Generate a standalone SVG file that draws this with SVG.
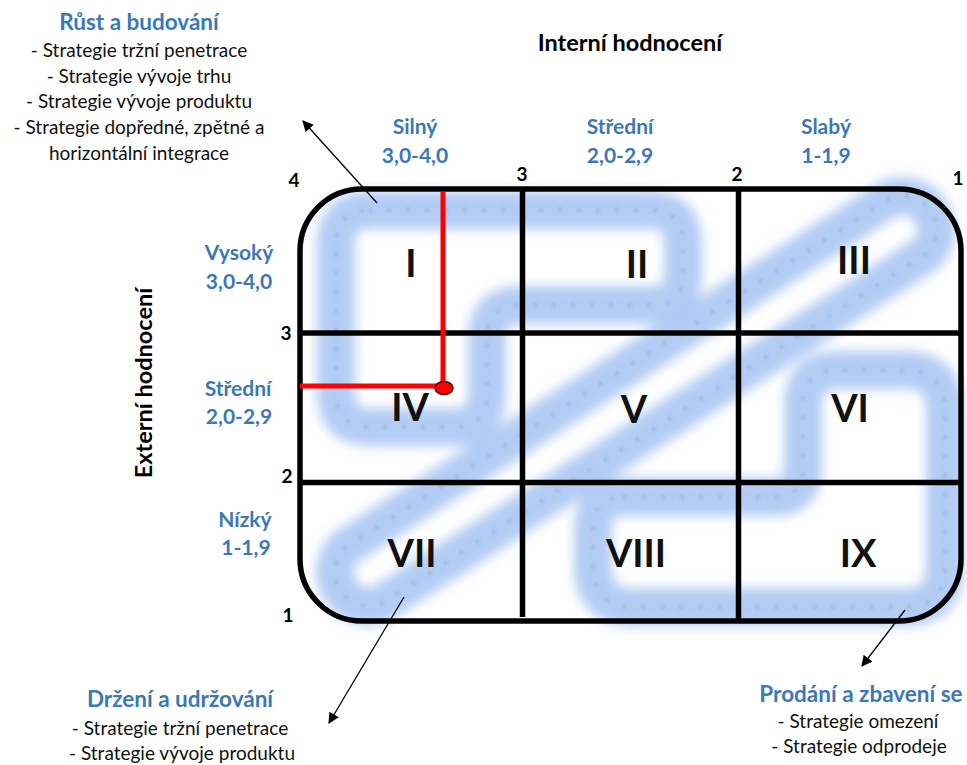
<svg xmlns="http://www.w3.org/2000/svg" width="967" height="765" viewBox="0 0 967 765">
<style>
text{font-family:Lato,"Liberation Sans",sans-serif}
.blue{fill:#3b78b8;font-weight:bold;font-size:21px;text-anchor:middle}
.bt{fill:#3b78b8;font-weight:bold;font-size:22.5px;text-anchor:middle}
.body{fill:#111;font-size:19px;text-anchor:middle}
.num{fill:#000;font-weight:bold;font-size:19px;text-anchor:middle}
.rom{fill:#111;font-weight:bold;font-size:38px;text-anchor:middle}
.axis{fill:#000;font-weight:bold;font-size:23.5px;text-anchor:middle}
.band{fill:none;stroke:#a6c3f2;stroke-width:38;stroke-linejoin:round;stroke-linecap:round;opacity:0.85}
.dots{fill:none;stroke:#93b2de;stroke-width:5;stroke-dasharray:0 19;stroke-linecap:round;opacity:0.55}
.grid{fill:none;stroke:#000;stroke-width:5.5}
.red{fill:none;stroke:#f00;stroke-width:5}
.arr{stroke:#000;stroke-width:1.3;fill:none;marker-end:url(#ah)}
</style>
<defs>
<filter id="blur" x="-10%" y="-10%" width="120%" height="120%"><feGaussianBlur stdDeviation="6"/></filter>
<filter id="blur2"><feGaussianBlur stdDeviation="1"/></filter>
<marker id="ah" viewBox="0 0 10 10" refX="9" refY="5" markerWidth="12" markerHeight="11" markerUnits="userSpaceOnUse" orient="auto"><path d="M0,0 L10,5 L0,10 Z" fill="#000"/></marker>
</defs>
<g id="bands">
<g filter="url(#blur)">
<path class="band" d="M370,210 L650,210 Q683,210 683,243 L683,275 Q683,305 653,305 L520,305 Q487,305 487,338 L487,395 Q487,427 455,427 L370,427 Q336,427 336,393 L336,244 Q336,210 370,210 Z"/>
<path class="band" d="M345,548 L890,198 A34,34 0 0 1 926,254 L381,604 A34,34 0 0 1 345,548 Z"/>
<path class="band" d="M625,497 L775,497 Q803,497 803,469 L803,405 Q803,370 838,370 L905,370 Q945,370 945,410 L945,567 Q945,607 905,607 L633,607 Q593,607 593,567 L593,529 Q593,497 625,497 Z"/>
</g>
<g filter="url(#blur2)">
<path class="dots" d="M370,210 L650,210 Q683,210 683,243 L683,275 Q683,305 653,305 L520,305 Q487,305 487,338 L487,395 Q487,427 455,427 L370,427 Q336,427 336,393 L336,244 Q336,210 370,210 Z"/>
<path class="dots" d="M345,548 L890,198 A34,34 0 0 1 926,254 L381,604 A34,34 0 0 1 345,548 Z"/>
<path class="dots" d="M625,497 L775,497 Q803,497 803,469 L803,405 Q803,370 838,370 L905,370 Q945,370 945,410 L945,567 Q945,607 905,607 L633,607 Q593,607 593,567 L593,529 Q593,497 625,497 Z"/>
</g>
</g>
<g id="matrix">
<rect class="grid" x="300" y="189" width="661" height="432" rx="62" ry="62"/>
<line class="grid" x1="522.5" y1="189" x2="522.5" y2="617"/>
<line class="grid" x1="738.5" y1="189" x2="738.5" y2="621"/>
<line class="grid" x1="300" y1="333" x2="959" y2="333"/>
<line class="grid" x1="300" y1="482.5" x2="959" y2="482.5"/>
</g>
<g id="position">
<line class="red" x1="443" y1="192" x2="443" y2="387"/>
<line class="red" x1="300" y1="386" x2="443" y2="386"/>
<ellipse cx="444" cy="388" rx="9" ry="6.5" fill="#f00" stroke="#5a0000" stroke-width="1.5"/>
</g>
<g id="cells">
<text class="rom" x="411" y="277">I</text>
<text class="rom" x="637" y="278">II</text>
<text class="rom" x="854" y="274">III</text>
<text class="rom" x="410" y="421">IV</text>
<text class="rom" x="634" y="423">V</text>
<text class="rom" x="850" y="422">VI</text>
<text class="rom" x="412" y="567">VII</text>
<text class="rom" x="636" y="567">VIII</text>
<text class="rom" x="858" y="567">IX</text>
</g>
<g id="scale">
<text class="num" x="294" y="187">4</text>
<text class="num" x="522" y="181">3</text>
<text class="num" x="737" y="181">2</text>
<text class="num" x="958" y="185">1</text>
<text class="num" x="286" y="340">3</text>
<text class="num" x="287" y="483">2</text>
<text class="num" x="288" y="622">1</text>
</g>
<g id="headers">
<text class="axis" x="630" y="51">Interní hodnocení</text>
<text class="axis" transform="translate(152,383) rotate(-90)">Externí hodnocení</text>
<text class="blue" x="415" y="134">Silný</text>
<text class="blue" x="415" y="163">3,0-4,0</text>
<text class="blue" x="620" y="134">Střední</text>
<text class="blue" x="620" y="163">2,0-2,9</text>
<text class="blue" x="826" y="134">Slabý</text>
<text class="blue" x="826" y="163">1-1,9</text>
<text class="blue" x="239" y="260">Vysoký</text>
<text class="blue" x="239" y="289">3,0-4,0</text>
<text class="blue" x="238" y="396">Střední</text>
<text class="blue" x="239" y="424">2,0-2,9</text>
<text class="blue" x="245" y="527">Nízký</text>
<text class="blue" x="246" y="555">1-1,9</text>
</g>
<g id="growth">
<text class="bt" x="139" y="30">Růst a budování</text>
<text class="body" x="139" y="57">- Strategie tržní penetrace</text>
<text class="body" x="139" y="83">- Strategie vývoje trhu</text>
<text class="body" x="139" y="108">- Strategie vývoje produktu</text>
<text class="body" x="139" y="134">- Strategie dopředné, zpětné a</text>
<text class="body" x="139" y="160">horizontální integrace</text>
</g>
<g id="hold">
<text class="bt" x="180" y="707">Držení a udržování</text>
<text class="body" x="180" y="735">- Strategie tržní penetrace</text>
<text class="body" x="182" y="760">- Strategie vývoje produktu</text>
</g>
<g id="harvest">
<text class="bt" x="861" y="702">Prodání a zbavení se</text>
<text class="body" x="858" y="728">- Strategie omezení</text>
<text class="body" x="859" y="753">- Strategie odprodeje</text>
</g>
<g id="connectors">
<line class="arr" x1="377" y1="203" x2="303" y2="121"/>
<line class="arr" x1="404" y1="597" x2="329" y2="723"/>
<line class="arr" x1="905" y1="610" x2="862" y2="666"/>
</g>
</svg>
